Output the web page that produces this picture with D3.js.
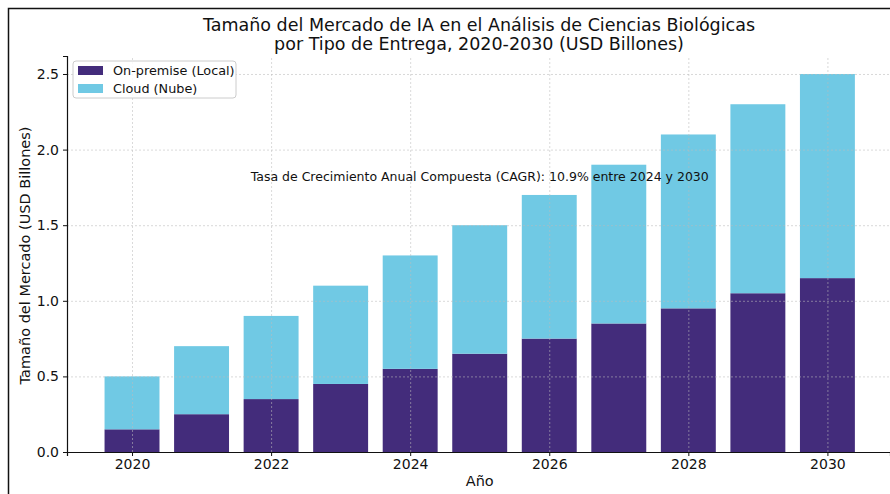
<!DOCTYPE html>
<html>
<head>
<meta charset="utf-8">
<script src="https://cdn.jsdelivr.net/npm/d3@7"></script>
<style>
  body { margin: 0; background: #fff; }
  text { font-family: "DejaVu Sans", sans-serif; fill: #111; }
  .grid line { stroke: #bbb; stroke-dasharray: 2,2; stroke-width: 0.8; opacity: 0.7; }
  .grid path { display: none; }
</style>
</head>
<body>
<div id="chart"></div>
<script>
const years = [2020, 2021, 2022, 2023, 2024, 2025, 2026, 2027, 2028, 2029, 2030];
const onPremise = [0.15, 0.25, 0.35, 0.45, 0.55, 0.65, 0.75, 0.85, 0.95, 1.05, 1.15];
const cloud = [0.35, 0.45, 0.55, 0.65, 0.75, 0.85, 0.95, 1.05, 1.15, 1.25, 1.35];
const xTicks = [2020, 2022, 2024, 2026, 2028, 2030];
const yTicks = [0, 0.5, 1.0, 1.5, 2.0, 2.5];
const seriesNames = ["On-premise (Local)", "Cloud (Nube)"];
const colors = ["#432c7b", "#70c9e4"];

const drawChart = () => {
  const chartSize = { width: 890, height: 494 };
  const margin = { left: 67, right: 0, top: 56, bottom: 42 };
  const width = chartSize.width - margin.left - margin.right;
  const height = chartSize.height - margin.top - margin.bottom;

  const svg = d3.select("#chart")
    .append("svg")
    .attr("width", chartSize.width)
    .attr("height", chartSize.height);

  // outer frame
  svg.append("rect")
    .attr("x", 8.5).attr("y", 8.5)
    .attr("width", 900).attr("height", 500)
    .attr("fill", "none").attr("stroke", "#111").attr("stroke-width", 1.5);

  const g = svg.append("g")
    .attr("transform", `translate(${margin.left},${margin.top})`);

  const x = d3.scaleLinear().domain([2019.065, 2030.9]).range([0, width]);
  const y = d3.scaleLinear().domain([0, 2.619]).range([height, 0]);
  const barW = 0.79;

  const rows = years.map((yr, i) => ({ year: yr, onPremise: onPremise[i], cloud: cloud[i] }));
  const stacked = d3.stack().keys(["onPremise", "cloud"])(rows);

  stacked.forEach((layer, li) => {
    g.selectAll(`.bar-${li}`)
      .data(layer)
      .enter()
      .append("rect")
      .attr("class", `bar-${li}`)
      .attr("x", d => x(d.data.year - barW / 2))
      .attr("y", d => y(d[1]))
      .attr("width", d => x(d.data.year + barW / 2) - x(d.data.year - barW / 2))
      .attr("height", d => y(d[0]) - y(d[1]))
      .attr("fill", colors[li]);
  });

  // grid over bars
  g.append("g").attr("class", "grid")
    .attr("transform", `translate(0,${height})`)
    .call(d3.axisBottom(x).tickValues(xTicks).tickSize(-height).tickFormat(""));
  g.append("g").attr("class", "grid")
    .call(d3.axisLeft(y).tickValues(yTicks).tickSize(-width).tickFormat(""));

  const xAxis = g.append("g")
    .attr("transform", `translate(0,${height})`)
    .call(d3.axisBottom(x).tickValues(xTicks).tickFormat(d3.format("d")).tickSize(4).tickPadding(3));
  const yAxis = g.append("g")
    .call(d3.axisLeft(y).tickValues(yTicks).tickFormat(d3.format(".1f")).tickSize(4).tickPadding(4));
  [xAxis, yAxis].forEach(a => {
    a.select(".domain").attr("stroke", "#111").attr("stroke-width", 1.2);
    a.selectAll(".tick line").attr("stroke", "#111");
    a.selectAll("text").style("font-size", "14px").attr("fill", "#111");
  });

  // title
  svg.append("text")
    .attr("x", 479).attr("y", 31)
    .attr("text-anchor", "middle").style("font-size", "17.5px")
    .text("Tamaño del Mercado de IA en el Análisis de Ciencias Biológicas");
  svg.append("text")
    .attr("x", 479).attr("y", 50)
    .attr("text-anchor", "middle").style("font-size", "17.5px")
    .text("por Tipo de Entrega, 2020-2030 (USD Billones)");

  g.append("text")
    .attr("x", x(2025)).attr("y", height + 34)
    .attr("text-anchor", "middle").style("font-size", "14.5px")
    .text("Año");
  g.append("text")
    .attr("transform", "rotate(-90)")
    .attr("x", -y(1.3)).attr("y", -37)
    .attr("text-anchor", "middle").style("font-size", "14.5px")
    .text("Tamaño del Mercado (USD Billones)");

  g.append("text")
    .attr("x", x(2025)).attr("y", y(1.79))
    .attr("text-anchor", "middle").style("font-size", "12.5px")
    .text("Tasa de Crecimiento Anual Compuesta (CAGR): 10.9% entre 2024 y 2030");

  // legend
  const legend = g.append("g").attr("transform", "translate(6,5)");
  legend.append("rect")
    .attr("width", 163).attr("height", 37).attr("rx", 3)
    .attr("fill", "#fff").attr("fill-opacity", 0.85)
    .attr("stroke", "#ccc");
  seriesNames.forEach((name, i) => {
    legend.append("rect")
      .attr("x", 5).attr("y", 5 + i * 18)
      .attr("width", 25).attr("height", 9)
      .attr("fill", colors[i]);
    legend.append("text")
      .attr("x", 40).attr("y", 14 + i * 18)
      .style("font-size", "12.8px")
      .text(name);
  });
};

window.onload = drawChart;
</script>
</body>
</html>
